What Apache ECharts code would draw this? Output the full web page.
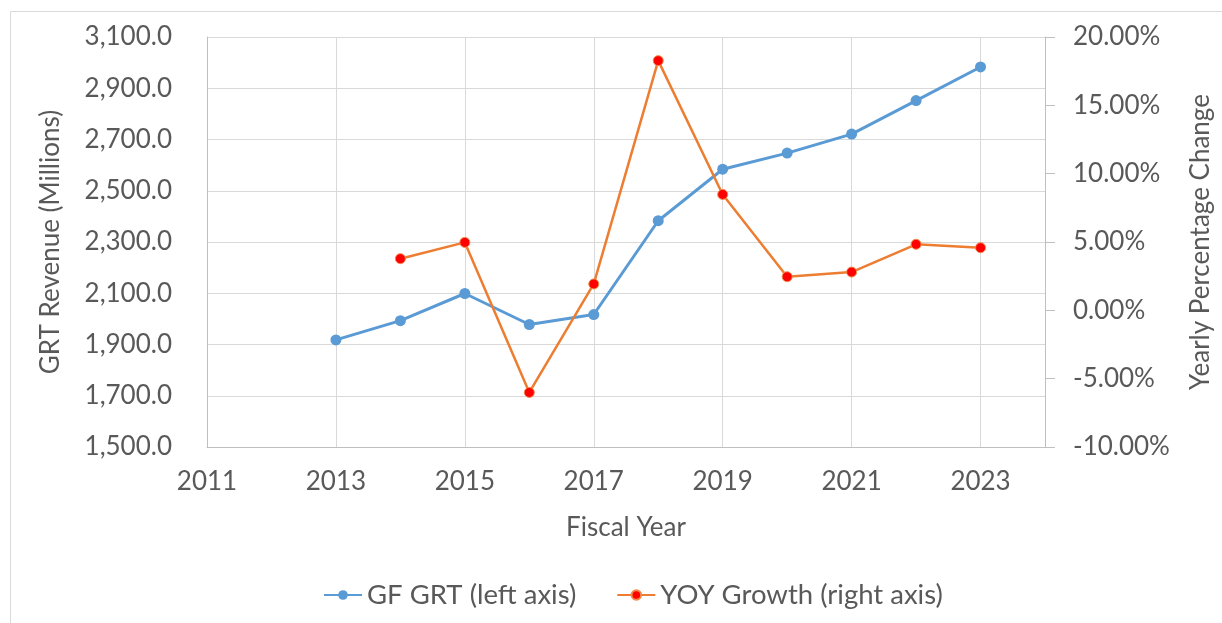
<!DOCTYPE html>
<html>
<head>
<meta charset="utf-8">
<script src="https://cdn.jsdelivr.net/npm/echarts@6/dist/echarts.min.js"></script>
<style>
  html, body { margin: 0; padding: 0; background: #fff; }
  #chart { width: 1222px; height: 623px; }
</style>
</head>
<body>
<div id="chart"></div>
<script>
// fiscal years and the two series
const YEARS = [2013, 2014, 2015, 2016, 2017, 2018, 2019, 2020, 2021, 2022, 2023];
const GRT = [1918, 1993, 2099, 1978, 2017, 2383, 2584, 2647, 2721, 2852, 2983];        // millions
const YOY = [null, 3.78, 4.97, -6.01, 1.93, 18.27, 8.48, 2.46, 2.80, 4.83, 4.58];      // percent

const TXT = '#595959';
const GRID = '#D9D9D9';
const FONT = 'Lato';

const chart = echarts.init(document.getElementById('chart'), null, { renderer: 'canvas' });

chart.setOption({
  backgroundColor: '#fff',
  animation: false,
  textStyle: { fontFamily: FONT, color: TXT },
  graphic: [{
    type: 'rect', left: 8, top: 9, silent: true,
    shape: { width: 1300, height: 700 },
    style: { fill: 'none', stroke: '#DADADA', lineWidth: 1 }
  }],
  grid: { left: 207, right: 173, top: 37, bottom: 176 },
  legend: {
    top: 576, left: 318, itemGap: 40, itemWidth: 38, itemHeight: 12,
    textStyle: { fontFamily: FONT, fontSize: 27.5, color: TXT },
    data: ['GF GRT (left axis)', 'YOY Growth (right axis)']
  },
  xAxis: {
    type: 'value', min: 2011, max: 2024, interval: 2,
    name: 'Fiscal Year', nameLocation: 'middle', nameGap: 68,
    nameTextStyle: { fontFamily: FONT, fontSize: 26, color: TXT },
    axisLine: { show: true, onZero: false, lineStyle: { color: '#BFBFBF' } },
    axisTick: { show: false },
    axisLabel: { fontFamily: FONT, fontSize: 26, color: TXT, margin: 22, showMaxLabel: false, formatter: v => String(v) },
    splitLine: { show: true, lineStyle: { color: GRID } }
  },
  yAxis: [{
    type: 'value', min: 1500, max: 3100, interval: 200, position: 'left',
    name: 'GRT Revenue (Millions)', nameLocation: 'middle', nameGap: 143,
    nameTextStyle: { fontFamily: FONT, fontSize: 26, color: TXT },
    axisLine: { show: true, lineStyle: { color: '#BFBFBF' } },
    axisTick: { show: false },
    axisLabel: { fontFamily: FONT, fontSize: 26, color: TXT, margin: 35,
      formatter: v => v.toLocaleString('en-US', { minimumFractionDigits: 1, maximumFractionDigits: 1 }) },
    splitLine: { show: true, lineStyle: { color: GRID } }
  }, {
    type: 'value', min: -10, max: 20, interval: 5, position: 'right',
    name: 'Yearly Percentage Change', nameLocation: 'middle', nameGap: 143,
    nameTextStyle: { fontFamily: FONT, fontSize: 26, color: TXT },
    axisLine: { show: true, lineStyle: { color: '#BFBFBF' } },
    axisTick: { show: true, inside: false, length: 10, lineStyle: { color: '#BFBFBF' } },
    axisLabel: { fontFamily: FONT, fontSize: 26, color: TXT, margin: 28, formatter: v => v.toFixed(2) + '%' },
    splitLine: { show: false }
  }],
  series: [{
    name: 'GF GRT (left axis)', type: 'line', yAxisIndex: 0,
    data: YEARS.map((y, i) => [y, GRT[i]]),
    symbol: 'circle', symbolSize: 11,
    lineStyle: { color: '#5B9BD5', width: 3 },
    itemStyle: { color: '#5B9BD5' }
  }, {
    name: 'YOY Growth (right axis)', type: 'line', yAxisIndex: 1,
    data: YEARS.map((y, i) => [y, YOY[i]]),
    symbol: 'circle', symbolSize: 10,
    lineStyle: { color: '#ED7D31', width: 2.5 },
    itemStyle: { color: '#FF0000', borderColor: '#F28A4A', borderWidth: 1 }
  }]
});
</script>
</body>
</html>
